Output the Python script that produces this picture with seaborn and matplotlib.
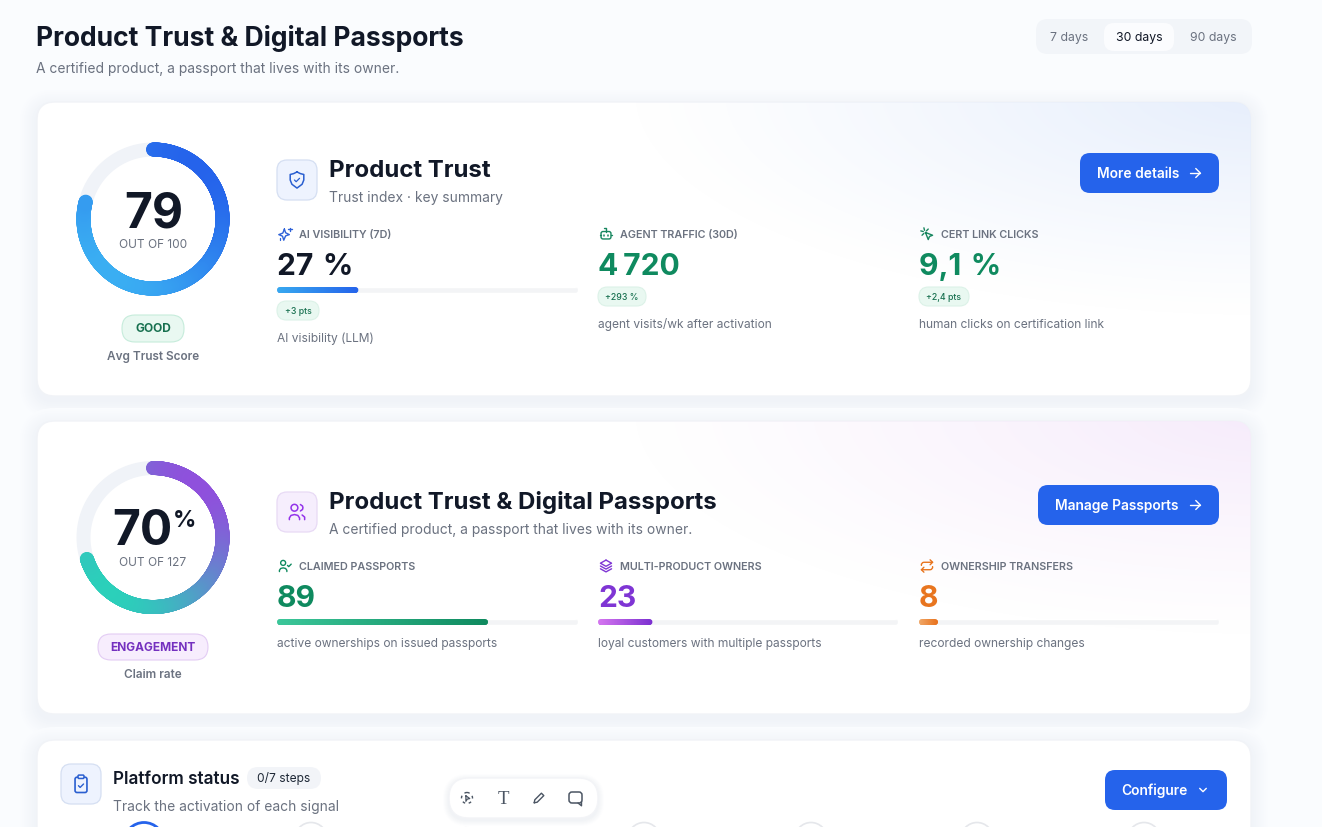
import numpy as np
import seaborn as sns
import matplotlib.pyplot as plt
from matplotlib.colors import LinearSegmentedColormap as LSC
from matplotlib.patches import FancyBboxPatch, Circle

# ---- data ----
PAGE_TITLE = "Product Trust & Digital Passports"
PAGE_SUB = "A certified product, a passport that lives with its owner."
RANGES = ["7 days", "30 days", "90 days"]

GAUGE_SCORES = [79, 70]
GAUGE_TEXT = ["79", "70"]
GAUGE_OF = ["OUT OF 100", "OUT OF 127"]
GAUGE_BADGE = ["GOOD", "ENGAGEMENT"]
GAUGE_CAPTION = ["Avg Trust Score", "Claim rate"]

TRUST_LABELS = ["AI VISIBILITY (7D)", "AGENT TRAFFIC (30D)", "CERT LINK CLICKS"]
TRUST_VALUES = ["27 \u200a%", "4\u2009720", "9,1 \u200a%"]
TRUST_CHIPS = ["+3 pts", "+293 %", "+2,4 pts"]
TRUST_NOTES = ["AI visibility (LLM)", "agent visits/wk after activation",
               "human clicks on certification link"]
AI_VISIBILITY_PCT = 27

PASS_LABELS = ["CLAIMED PASSPORTS", "MULTI-PRODUCT OWNERS", "OWNERSHIP TRANSFERS"]
PASS_VALUES = [89, 23, 8]
PASS_TOTAL = 127
PASS_NOTES = ["active ownerships on issued passports",
              "loyal customers with multiple passports",
              "recorded ownership changes"]

# ---- colours ----
INK = "#111827"
GREY = "#6b7280"
TRACK = "#f3f4f6"
BLUE = "#2563eb"
GREEN = "#0f8a5f"
PURPLE = "#7f35d4"
ORANGE = "#e8751f"
PAGE_BG = "#fafcfe"

W, H = 1322, 827
sns.set_theme(style="white")
plt.rcParams["font.family"] = ["Inter", "DejaVu Sans"]

fig = plt.figure(figsize=(W / 100, H / 100), dpi=100, facecolor=PAGE_BG)
page = fig.add_axes([0, 0, 1, 1])
page.set_xlim(0, W)
page.set_ylim(H, 0)
page.axis("off")


def label(x, y, s, px, color=INK, weight="normal", ha="left", **kw):
    return page.text(x, y, s, fontsize=px * 0.72, color=color, weight=weight,
                     ha=ha, va="baseline", zorder=6, **kw)


def box(x0, y0, x1, y1, r, fc, ec="none", lw=1, z=3, **kw):
    p = FancyBboxPatch((x0 + r, y0 + r), x1 - x0 - 2 * r, y1 - y0 - 2 * r,
                       boxstyle=f"round,pad={r},rounding_size={r}",
                       fc=fc, ec=ec, lw=lw, zorder=z, **kw)
    page.add_patch(p)
    return p


def soft_shadow(x0, y0, x1, y1, r, spread, drop, outer, inner, z):
    # opaque rings, very low alpha steps turn grey when they are rounded
    fade = LSC.from_list("shadow", [outer, inner])
    for i in range(spread):
        grow = spread - i
        box(x0 - grow, y0 - grow + drop, x1 + grow, y1 + grow + drop, r + grow,
            fade(i / (spread - 1)), z=z)


def card(y0, y1, tint=None):
    x0, x1 = 37, 1251
    soft_shadow(x0, y0, x1, y1, 18, 18, 5, PAGE_BG, "#f0f3f8", 1)
    body = box(x0, y0, x1, y1, 18, "white", ec="#f1f3f7", lw=1, z=2)
    if tint is not None:
        # soft colour wash coming from the top right corner
        yy, xx = np.mgrid[y0:min(y1, H):150j, x0:x1:400j]
        d = np.sqrt(((x1 + 20 - xx) / 640) ** 2 + ((yy - y0 + 10) / 225) ** 2)
        rgba = np.zeros(d.shape + (4,))
        rgba[..., :3] = tint
        rgba[..., 3] = np.clip(1 - d, 0, 1) ** 1.1
        im = page.imshow(rgba, extent=(x0, x1, min(y1, H), y0), aspect="auto",
                         interpolation="bilinear", zorder=2.5)
        im.set_clip_path(body)
        page.set_xlim(0, W)
        page.set_ylim(H, 0)


def gauge(cx, cy, score, cmap):
    R = 95
    ax = fig.add_axes([(cx - R) / W, 1 - (cy + R) / H, 2 * R / W, 2 * R / H],
                      projection="polar", zorder=4)
    ax.patch.set_alpha(0)
    ax.set_theta_zero_location("N")
    ax.set_theta_direction(-1)
    full = np.linspace(0, 2 * np.pi, 361)
    sns.lineplot(x=full, y=np.full(361, 69.5), color="#f0f3f8", lw=14 * 0.72,
                 sort=False, estimator=None, ax=ax)
    theta = np.linspace(0, score / 100 * 2 * np.pi, 900)
    # gradient runs from top right to bottom left of the ring
    t = (1 + (-np.sin(theta) - np.cos(theta)) / np.sqrt(2)) / 2
    sns.scatterplot(x=theta, y=np.full(900, 69.5), hue=t, hue_norm=(0, 1),
                    palette=cmap, s=(14 * 0.72) ** 2, linewidth=0, legend=False,
                    zorder=3, ax=ax)
    ax.set_rlim(0, R)
    ax.axis("off")


def progress(x, y, w, h, value, c0, c1):
    ax = fig.add_axes([x / W, 1 - (y + h) / H, w / W, h / H], zorder=4)
    sns.barplot(x=[100], y=[0], orient="h", color=TRACK, saturation=1, width=1, ax=ax)
    sns.barplot(x=[value], y=[0], orient="h", color=c1, saturation=1, width=1, ax=ax)
    ax.set_xlim(0, 100)
    ax.set_ylim(0.5, -0.5)
    ax.axis("off")
    ax.patch.set_alpha(0)
    for bar in ax.patches:
        pill = box(x, y, x + w * bar.get_width() / 100, y + h, h / 2, "none", z=0)
        bar.set_clip_path(pill)
    bar = ax.patches[-1]
    grad = np.linspace(0, 1, 256).reshape(1, -1)
    im = ax.imshow(grad, cmap=LSC.from_list("g", [c0, c1]), aspect="auto",
                   extent=(0, bar.get_width(), 0.5, -0.5), zorder=5)
    im.set_clip_path(pill)
    ax.set_xlim(0, 100)
    ax.set_ylim(0.5, -0.5)


# ---- small line icons, drawn on a 24 unit box ----
def stroke(cx, cy, s, pts, color, lw=1.1, closed=False, z=6, **kw):
    pts = np.array(pts, float)
    if closed:
        pts = np.vstack([pts, pts[:1]])
    page.plot(cx + (pts[:, 0] - 12) * s, cy + (pts[:, 1] - 12) * s, color=color,
              lw=lw, solid_capstyle="round", solid_joinstyle="round", zorder=z, **kw)


def ring(cx, cy, s, x, y, r, color, lw=1.1, z=6, **kw):
    page.add_patch(Circle((cx + (x - 12) * s, cy + (y - 12) * s), r * s, fc="none",
                          ec=color, lw=lw, zorder=z, **kw))


def ic_shield(cx, cy, s, c):
    stroke(cx, cy, s, [(12, 2.5), (16, 4.5), (20, 5.5), (20, 12), (18, 17), (12, 21.5),
                       (6, 17), (4, 12), (4, 5.5), (8, 4.5)], c, 1.1, True)
    stroke(cx, cy, s, [(9, 12), (11, 14), (15, 10)], c, 0.9)


def ic_sparkles(cx, cy, s, c):
    stroke(cx, cy, s, [(11, 4), (13, 10), (19, 13), (13, 15), (10, 22), (8, 15.5),
                       (2, 13), (8.5, 10.5)], c, 1.0, True)
    stroke(cx, cy, s, [(20, 2), (20, 7)], c, 1.0)
    stroke(cx, cy, s, [(17.5, 4.5), (22.5, 4.5)], c, 1.0)
    stroke(cx, cy, s, [(4, 18), (4, 21)], c, 0.9)


def ic_bot(cx, cy, s, c):
    box(cx - 8 * s, cy - 4 * s, cx + 8 * s, cy + 8 * s, 2, "none", ec=c, lw=1.0, z=6)
    stroke(cx, cy, s, [(12, 8), (12, 3), (8, 3)], c, 1.0)
    stroke(cx, cy, s, [(9, 13), (9, 15)], c, 1.1)
    stroke(cx, cy, s, [(15, 13), (15, 15)], c, 1.1)
    stroke(cx, cy, s, [(2, 14), (4, 14)], c, 1.0)
    stroke(cx, cy, s, [(20, 14), (22, 14)], c, 1.0)


def ic_click(cx, cy, s, c):
    stroke(cx, cy, s, [(9.5, 9.5), (21, 14), (16, 16), (14, 21)], c, 1.0, True)
    for seg in ([(7, 2), (8, 6)], [(2, 7), (6, 8)], [(14, 4), (11, 7)], [(4, 14), (7, 11)]):
        stroke(cx, cy, s, seg, c, 1.0)


def ic_users(cx, cy, s, c):
    ring(cx, cy, s, 9, 7, 4, c, 1.1)
    stroke(cx, cy, s, [(3, 21), (3, 19), (5, 16), (9, 15), (13, 16), (15, 19), (15, 21)], c, 1.1)
    stroke(cx, cy, s, [(16, 3.2), (18.5, 5), (19, 7), (18.5, 9), (16, 10.8)], c, 1.1)
    stroke(cx, cy, s, [(18, 15.5), (21, 18), (21, 21)], c, 1.1)


def ic_user_check(cx, cy, s, c):
    ring(cx, cy, s, 9, 7, 4, c, 1.0)
    stroke(cx, cy, s, [(3, 21), (3, 19), (5, 16), (9, 15), (13, 16), (15, 19), (15, 21)], c, 1.0)
    stroke(cx, cy, s, [(16, 11), (18, 13), (22, 9)], c, 1.0)


def ic_layers(cx, cy, s, c):
    stroke(cx, cy, s, [(12, 2.5), (21, 7.5), (12, 12.5), (3, 7.5)], c, 1.0, True)
    stroke(cx, cy, s, [(3, 12), (12, 17), (21, 12)], c, 1.0)
    stroke(cx, cy, s, [(3, 16.5), (12, 21.5), (21, 16.5)], c, 1.0)


def ic_repeat(cx, cy, s, c):
    stroke(cx, cy, s, [(17, 2), (21, 6), (17, 10)], c, 1.0)
    stroke(cx, cy, s, [(3, 11), (3, 9), (5, 6.5), (7, 6), (21, 6)], c, 1.0)
    stroke(cx, cy, s, [(7, 22), (3, 18), (7, 14)], c, 1.0)
    stroke(cx, cy, s, [(21, 13), (21, 15), (19, 17.5), (17, 18), (3, 18)], c, 1.0)


def ic_clipboard(cx, cy, s, c):
    box(cx - 7 * s, cy - 8 * s, cx + 7 * s, cy + 10 * s, 2, "none", ec=c, lw=1.2, z=6)
    box(cx - 3.5 * s, cy - 10.5 * s, cx + 3.5 * s, cy - 6.5 * s, 1, "#eef3fe", ec=c, lw=1.1, z=6.5)
    stroke(cx, cy, s, [(9, 14), (11, 16), (15, 12)], c, 1.0)


def ic_arrow(cx, cy, s, c):
    stroke(cx, cy, s, [(5, 12), (19, 12)], c, 1.0)
    stroke(cx, cy, s, [(13, 6), (19, 12), (13, 18)], c, 1.0)


# ---- header ----
label(36, 46, PAGE_TITLE, 26.5, weight="bold")
label(36, 73, PAGE_SUB, 13.85, GREY)
box(1036, 19, 1252, 54, 12, "#f2f5f9", z=2)
box(1104, 23, 1174, 51, 10, "#fbfcfe", z=3)
for tx, txt, col in zip([1069.5, 1139, 1213], RANGES, [GREY, INK, GREY]):
    label(tx, 41, txt, 12.3, col, ha="center")

# ---- cards ----
card(102, 396, tint=np.array([0.905, 0.935, 0.99]))
card(421, 714, tint=np.array([0.965, 0.925, 0.985]))
card(740, 900)

# ---- gauges ----
gauge(153, 219, GAUGE_SCORES[0], LSC.from_list("blue", [BLUE, "#3aaef2"]))
gauge(153, 537.5, GAUGE_SCORES[1], LSC.from_list("teal", ["#8f50dc", "#2bd0ba"]))

label(154, 227, GAUGE_TEXT[0], 48, weight="bold", ha="center")
label(153, 248, GAUGE_OF[0], 11.9, GREY, ha="center")
box(122, 315, 184, 342, 13, "#e9f8f1", ec="#c6ecdb", lw=0.8, z=3)
label(153, 332, GAUGE_BADGE[0], 12, "#17704f", weight="bold", ha="center")
label(153, 360, GAUGE_CAPTION[0], 11.8, GREY, weight="semibold", ha="center")

label(112.5, 545, GAUGE_TEXT[1], 48, weight="bold")
label(173, 527, "%", 23, weight="bold")
label(153, 566, GAUGE_OF[1], 11.9, GREY, ha="center")
box(98, 634, 208, 660, 13, "#f7edfd", ec="#e3ccf4", lw=0.8, z=3)
label(153, 651, GAUGE_BADGE[1], 11.9, "#7430bf", weight="bold", ha="center")
label(153, 678, GAUGE_CAPTION[1], 11.8, GREY, weight="semibold", ha="center")

# ---- card headers ----
box(277, 160, 317, 200, 10, "#eef3fe", ec="#d5dff2", lw=0.9)
ic_shield(297, 180, 0.85, "#2a5fd0")
label(329, 177, "Product Trust", 24, weight="bold")
label(329, 202, "Trust index · key summary", 13.85, GREY)

box(277, 492, 317, 532, 10, "#f6eefd", ec="#e8daf5", lw=0.9)
ic_users(297, 512, 0.85, "#9333ea")
label(329, 509, PAGE_TITLE, 24, weight="bold")
label(329, 534, PAGE_SUB, 13.85, GREY)

# ---- buttons ----
for x0, x1, y0, txt, tx in [(1080, 1219, 153, "More details", 1097),
                            (1038, 1219, 485, "Manage Passports", 1055)]:
    box(x0, y0, x1, y0 + 40, 10, BLUE)
    label(tx, y0 + 25, txt, 13.8, "white", weight="semibold")
    ic_arrow(1195, y0 + 20, 0.75, "white")

# ---- trust metrics ----
cols = [277, 598, 919]
icons = [ic_sparkles, ic_bot, ic_click]
icon_cols = ["#2f62d8", "#17865f", "#17865f"]
value_cols = [INK, GREEN, GREEN]
chip_w = [42, 48, 50]
for i, x in enumerate(cols):
    icons[i](x + 8, 234, 0.62, icon_cols[i])
    label(x + 22, 238, TRUST_LABELS[i], 10.8, GREY, weight="semibold")
    label(x, 275, TRUST_VALUES[i], 30, value_cols[i], weight="bold")
    top = 301 if i == 0 else 287
    box(x, top, x + chip_w[i], top + 19, 9.5, "#e9f8f1", ec="#dcf2e8", lw=0.8)
    label(x + chip_w[i] / 2, top + 13, TRUST_CHIPS[i], 8.8, "#17704f", ha="center", weight="medium")
    label(x, 342 if i == 0 else 328, TRUST_NOTES[i], 12, GREY)
progress(277, 287, 301, 6, AI_VISIBILITY_PCT, "#38a9f0", BLUE)

# ---- passport metrics ----
icons = [ic_user_check, ic_layers, ic_repeat]
value_cols = [GREEN, PURPLE, ORANGE]
grads = [("#3cc79a", GREEN), ("#d676f0", "#7a2fd0"), ("#f0a868", "#e8701a")]
widths = [301, 300, 300]
for i, x in enumerate(cols):
    icons[i](x + 8, 566, 0.62, value_cols[i])
    label(x + 22, 570, PASS_LABELS[i], 10.8, GREY, weight="semibold")
    label(x, 607, str(PASS_VALUES[i]), 30, value_cols[i], weight="bold")
    progress(x, 619, widths[i], 6, PASS_VALUES[i] / PASS_TOTAL * 100, *grads[i])
    label(x, 647, PASS_NOTES[i], 12, GREY)

# ---- platform status card, cut by the window edge ----
box(61, 764, 101, 804, 10, "#eef3fe", ec="#d5dff2", lw=0.9)
ic_clipboard(81, 784, 0.85, "#2a5fd0")
label(113, 784, "Platform status", 17.2, weight="semibold")
box(247, 767, 321, 789, 11, "#f2f4f8")
label(284, 782, "0/7 steps", 12, "#1f2937", ha="center")
label(113, 811, "Track the activation of each signal", 13.85, GREY)

box(1105, 770, 1227, 810, 10, BLUE)
label(1121, 795, "Configure", 13.8, "white", weight="semibold")
stroke(1203, 790, 0.55, [(6, 9), (12, 15), (18, 9)], "white", 1.0)

page.add_patch(Circle((144, 842.5), 20, fc="white", ec=BLUE, lw=2, zorder=3))
for cx in [311, 477, 644, 811, 977, 1144]:
    page.add_patch(Circle((cx, 838.5), 16, fc="white", ec="#e5e7eb", lw=1.2, zorder=3))

# ---- floating toolbar ----
soft_shadow(449, 778, 598, 818, 20, 7, 2, "#ffffff", "#f1f3f6", 6.6)
box(449, 778, 598, 818, 20, "white", ec="#f3f4f7", lw=1, z=6.7)
tool = "#4b5563"
ring(467, 798, 0.55, 12, 12, 10, tool, 1.0, z=7, ls=(0, (2, 2.6)))
stroke(467, 798, 0.55, [(10, 8), (17, 13), (12.5, 14), (10, 18)], tool, 0.9, True, z=7)
page.text(503.5, 803.5, "T", fontsize=13.5, color=tool, family="Liberation Serif", ha="center", zorder=7)
stroke(539, 798, 0.6, [(4, 20), (5, 15), (16, 4), (20, 8), (9, 19)], tool, 1.0, True, z=7)
box(569, 792, 582, 803, 3, "none", ec=tool, lw=1.1, z=7)
stroke(575.5, 798, 0.6, [(16.2, 20.3), (22, 25), (22, 18.7)], tool, 1.0, z=7)

fig.savefig("out.png", dpi=100, facecolor=fig.get_facecolor())
